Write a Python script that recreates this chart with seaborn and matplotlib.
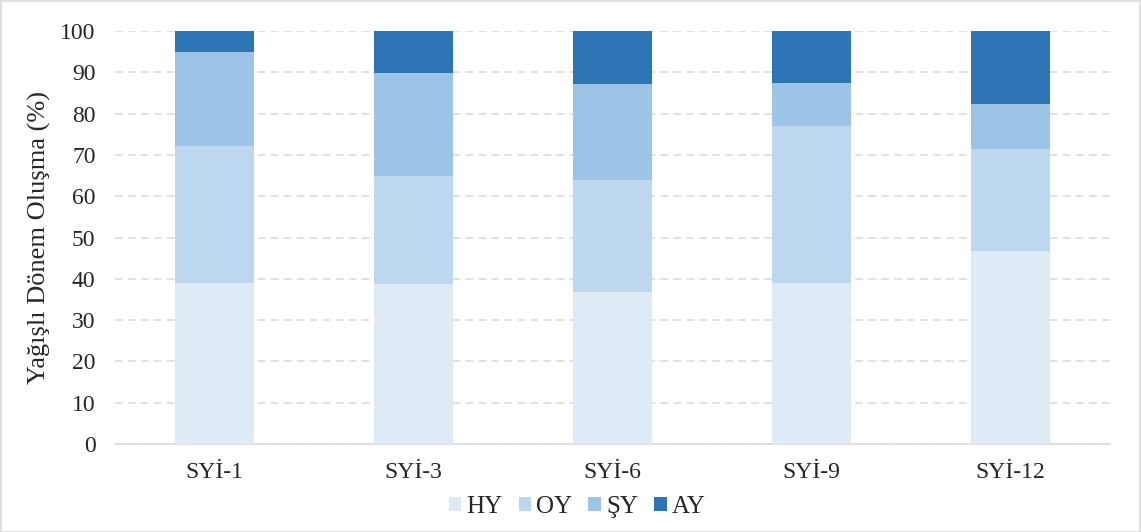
import matplotlib
matplotlib.use("Agg")
import matplotlib.pyplot as plt
import seaborn as sns
import numpy as np
import pandas as pd
from matplotlib.patches import Patch, Rectangle

categories = ["SYİ-1", "SYİ-3", "SYİ-6", "SYİ-9", "SYİ-12"]
series_names = ["HY", "OY", "ŞY", "AY"]
HY = [39.0, 38.7, 36.7, 39.0, 46.8]
OY = [33.2, 26.2, 27.2, 38.0, 24.6]
SY = [22.7, 24.9, 23.3, 10.3, 10.9]
AY = [5.1, 10.2, 12.8, 12.7, 17.7]
colors = ["#deeaf6", "#bdd7ee", "#9dc3e6", "#2e75b6"]
yticks = list(range(0, 101, 10))

sns.set_theme(style="white")
plt.rcParams['font.family'] = ['Liberation Serif', 'DejaVu Serif']

fig = plt.figure(figsize=(11.41, 5.32), dpi=100)
ax = fig.add_axes([115/1141, 1-444/532, 995/1141, 413/532])

series = [HY, OY, SY, AY]
cum = np.cumsum(np.array(series), axis=0)
# draw from top (cumulative total) to bottom so lower segments overlay
for i in range(len(series) - 1, -1, -1):
    df = pd.DataFrame({"cat": categories, "val": cum[i]})
    sns.barplot(data=df, x="cat", y="val", color=colors[i], width=0.40,
                saturation=1, linewidth=0, ax=ax, zorder=3)

ax.set_xlim(-0.5, 4.5)
ax.set_ylim(0, 100)
ax.set_yticks(yticks)
ax.set_yticklabels([str(t) for t in yticks], fontsize=17)
ax.tick_params(axis='x', labelsize=17, length=0, pad=13)
ax.tick_params(axis='y', length=0, pad=14)
ax.set_xlabel("")
ax.set_ylabel("Yağışlı Dönem Oluşma (%)", fontsize=19)
ax.yaxis.set_label_coords((51-115)/995, 0.5)
ax.yaxis.grid(True, color="#d9d9d9", linestyle=(0, (5, 3.5)), linewidth=1.1, zorder=0)
ax.set_axisbelow(True)
for s in ["top", "right", "left"]:
    ax.spines[s].set_visible(False)
ax.spines["bottom"].set_color("#d9d9d9")
ax.spines["bottom"].set_linewidth(1.1)

handles = [Patch(facecolor=c, edgecolor='none') for c in colors]
fig.legend(handles, series_names, loc="center", bbox_to_anchor=(577/1141, 1-507/532),
           ncol=4, frameon=False, fontsize=18, handlelength=0.5, handleheight=0.5,
           handletextpad=0.2, columnspacing=0.65, borderpad=0)

fig.patches.append(Rectangle((0.5/1141, 0.5/532), 1-1.5/1141, 1-1.5/532,
                             transform=fig.transFigure, fill=False,
                             edgecolor="#d9d9d9", linewidth=1.2))

fig.savefig("out.png", dpi=100)
